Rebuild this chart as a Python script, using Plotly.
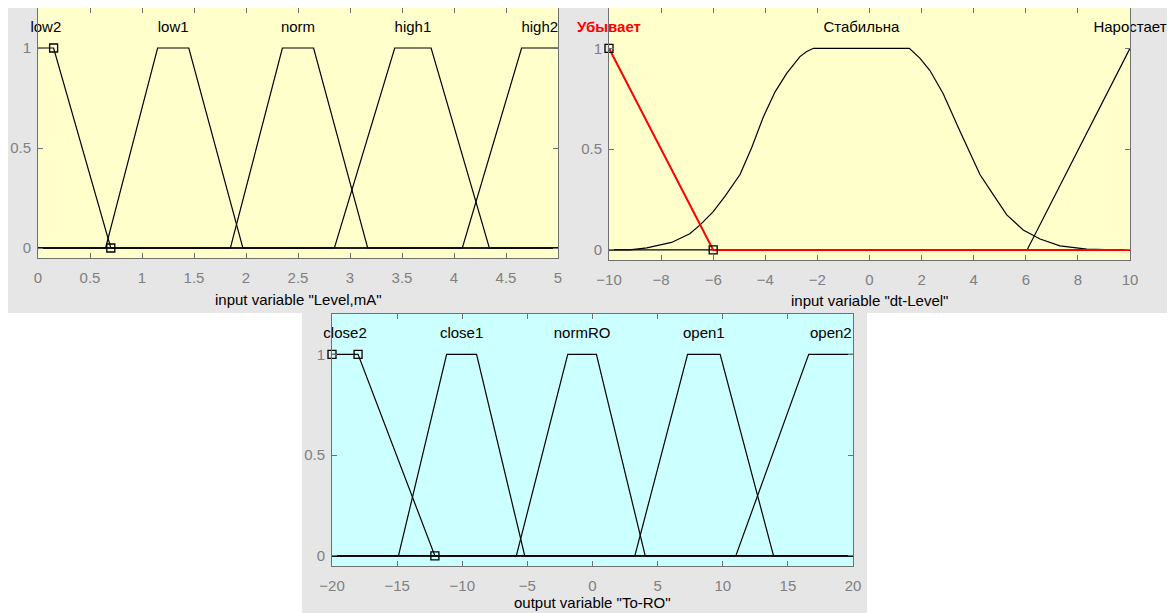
import plotly.graph_objects as go

# the page puts the figure 8 px in from the window corner
OX, OY = 8, 8
WIN_W, WIN_H = 1175, 613
W, H = WIN_W - OX, WIN_H - OY

# ---- input variable "Level,mA" ----
level_names = ["low2", "low1", "norm", "high1", "high2"]
level_x = [
    [0, 0.15, 0.7, 5],
    [0, 0.65, 1.15, 1.45, 1.97, 5],
    [0, 1.85, 2.35, 2.65, 3.17, 5],
    [0, 2.85, 3.43, 3.78, 4.34, 5],
    [0, 4.08, 4.65, 5],
]
level_y = [
    [1, 1, 0, 0],
    [0, 0, 1, 1, 0, 0],
    [0, 0, 1, 1, 0, 0],
    [0, 0, 1, 1, 0, 0],
    [0, 0, 1, 1],
]
level_handle_x = [0.15, 0.7]
level_handle_y = [1, 0]
level_ticks = [0, 0.5, 1, 1.5, 2, 2.5, 3, 3.5, 4, 4.5, 5]

# ---- input variable "dt-Level" ----
dt_names = ["Стабильна", "Наростает", "Убывает"]
dt_x = [
    [-10, -9.2, -8.55, -7.6, -6.9, -6.5, -6.0, -5.55, -4.97, -4.52, -4.08, -3.63,
     -3.18, -2.67, -2.41, -2.15, 1.53, 1.94, 2.32, 2.83, 3.47, 4.24, 4.75, 5.27,
     5.9, 6.55, 7.31, 8.34, 9.4, 10],
    [-10, 6.05, 10],
    [-10, -6, 10],
]
dt_y = [
    [0, 0, 0.01, 0.037, 0.08, 0.124, 0.19, 0.266, 0.374, 0.508, 0.658, 0.783,
     0.876, 0.959, 0.984, 1, 1, 0.95, 0.89, 0.775, 0.59, 0.374, 0.274, 0.174,
     0.099, 0.054, 0.02, 0.004, 0, 0],
    [0, 0, 1],
    [1, 0, 0],
]
dt_handle_x = [-10, -6]
dt_handle_y = [1, 0]
dt_ticks = [-10, -8, -6, -4, -2, 0, 2, 4, 6, 8, 10]

# ---- output variable "To-RO" ----
ro_names = ["close2", "close1", "normRO", "open1", "open2"]
ro_x = [
    [-20, -18, -12.1, 20],
    [-20, -14.9, -11.2, -8.9, -5.2, 20],
    [-20, -5.85, -1.9, 0.3, 4.05, 20],
    [-20, 3.25, 7.3, 9.8, 13.9, 20],
    [-20, 11.0, 16.6, 20],
]
ro_y = [
    [1, 1, 0, 0],
    [0, 0, 1, 1, 0, 0],
    [0, 0, 1, 1, 0, 0],
    [0, 0, 1, 1, 0, 0],
    [0, 0, 1, 1],
]
ro_handle_x = [-20, -18, -12.1]
ro_handle_y = [1, 1, 0]
ro_ticks = [-20, -15, -10, -5, 0, 5, 10, 15, 20]

FONT = "Liberation Sans, Arial, sans-serif"


# window pixel -> paper fraction
def fx(px):
    return min(max((px - OX) / W, 0), 1)


def fy(py):
    return min(max(1 - (py - OY) / H, 0), 1)


def px_x(a, b):
    return [fx(a), fx(b)]


def px_y(top, bottom):
    return [fy(bottom), fy(top)]


def plateau_center(xs, ys):
    top = max(ys)
    pts = [x for x, y in zip(xs, ys) if y == top]
    return sum(pts) / len(pts)


fig = go.Figure()


def add_panel(ax, names, xs_list, ys_list, hx, hy, red_last=False):
    xa = "x" if ax == 1 else "x%d" % ax
    ya = "y" if ax == 1 else "y%d" % ax
    for i, (name, xs, ys) in enumerate(zip(names, xs_list, ys_list)):
        is_red = red_last and i == len(names) - 1
        fig.add_trace(go.Scatter(
            x=xs, y=ys, mode="lines", xaxis=xa, yaxis=ya,
            line=dict(color="red" if is_red else "black", width=2 if is_red else 1.2),
            hoverinfo="skip", showlegend=False
        ))
        fig.add_trace(go.Scatter(
            x=[plateau_center(xs, ys)], y=[1.1], mode="text",
            text=["<b>%s</b>" % name if is_red else name],
            xaxis=xa, yaxis=ya, cliponaxis=False,
            textfont=dict(family=FONT, size=15, color="red" if is_red else "black"),
            hoverinfo="skip", showlegend=False
        ))
    fig.add_trace(go.Scatter(
        x=hx, y=hy, mode="markers", xaxis=xa, yaxis=ya, cliponaxis=False,
        marker=dict(symbol="square-open", size=8, color="black", line=dict(width=1.3)),
        hoverinfo="skip", showlegend=False
    ))


add_panel(1, level_names, level_x, level_y, level_handle_x, level_handle_y)
add_panel(2, dt_names, dt_x, dt_y, dt_handle_x, dt_handle_y, red_last=True)
add_panel(3, ro_names, ro_x, ro_y, ro_handle_x, ro_handle_y)

axis_common = dict(
    showgrid=False, zeroline=False, showline=True, mirror="ticks", automargin=False,
    linecolor="#707070", linewidth=1, ticks="inside", ticklen=5, tickcolor="#707070",
    tickfont=dict(family=FONT, size=15, color="#808080"), fixedrange=True
)

fig.update_layout(
    width=W, height=H,
    margin=dict(l=0, r=0, t=0, b=0),
    paper_bgcolor="white",
    plot_bgcolor="rgba(0,0,0,0)",
    showlegend=False,
    xaxis=dict(axis_common, domain=px_x(38, 558), range=[0, 5], tickvals=level_ticks,
               anchor="y", ticklabelstandoff=6),
    yaxis=dict(axis_common, domain=px_y(7, 258), range=[-0.05, 1.2], tickvals=[0, 0.5, 1],
               anchor="x", ticklabelstandoff=3),
    xaxis2=dict(axis_common, domain=px_x(609, 1130), range=[-10, 10], tickvals=dt_ticks,
                anchor="y2", ticklabelstandoff=6),
    yaxis2=dict(axis_common, domain=px_y(8, 260), range=[-0.05, 1.2], tickvals=[0, 0.5, 1],
                anchor="x2", ticklabelstandoff=3),
    xaxis3=dict(axis_common, domain=px_x(332, 853), range=[-20, 20], tickvals=ro_ticks,
                anchor="y3", ticklabelstandoff=6),
    yaxis3=dict(axis_common, domain=px_y(314, 566), range=[-0.05, 1.2], tickvals=[0, 0.5, 1],
                anchor="x3", ticklabelstandoff=3),
)

# window backgrounds and plot area fills
shapes = [
    dict(type="rect", xref="paper", yref="paper", layer="below", line_width=0,
         fillcolor="#e6e6e6", x0=fx(7), x1=fx(1167), y0=fy(313), y1=fy(3)),
    dict(type="rect", xref="paper", yref="paper", layer="below", line_width=0,
         fillcolor="#e6e6e6", x0=fx(302), x1=fx(867), y0=fy(613), y1=fy(312)),
    dict(type="line", xref="paper", yref="paper", layer="below",
         line=dict(color="#9fb3c8", width=2), x0=fx(1168), x1=fx(1168), y0=fy(313), y1=fy(0)),
    dict(type="rect", xref="x domain", yref="y domain", layer="below", line_width=0,
         fillcolor="#ffffcc", x0=0, x1=1, y0=0, y1=1),
    dict(type="rect", xref="x2 domain", yref="y2 domain", layer="below", line_width=0,
         fillcolor="#ffffcc", x0=0, x1=1, y0=0, y1=1),
    dict(type="rect", xref="x3 domain", yref="y3 domain", layer="below", line_width=0,
         fillcolor="#ccffff", x0=0, x1=1, y0=0, y1=1),
]
fig.update_layout(shapes=shapes)

titles = [
    ('input variable "Level,mA"', 298, 299),
    ('input variable "dt-Level"', 869, 300),
    ('output variable "To-RO"', 592, 602),
]
for text, cx, cy in titles:
    fig.add_annotation(text=text, xref="paper", yref="paper", x=fx(cx), y=fy(cy),
                       xanchor="center", yanchor="middle", showarrow=False,
                       font=dict(family=FONT, size=15, color="black"))

fig.write_html("out.html")
